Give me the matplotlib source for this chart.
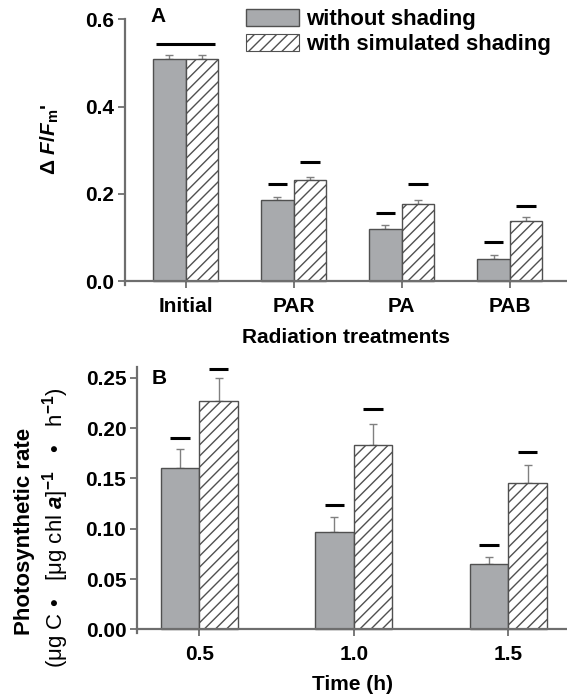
import numpy as np
import matplotlib
matplotlib.use('Agg')
import matplotlib.pyplot as plt
from matplotlib.patches import Patch

plt.rcParams['font.family'] = ['Liberation Sans', 'DejaVu Sans']
plt.rcParams['font.weight'] = 'bold'
plt.rcParams['axes.labelweight'] = 'bold'
plt.rcParams['mathtext.fontset'] = 'custom'
plt.rcParams['mathtext.rm'] = 'Liberation Sans'
plt.rcParams['mathtext.it'] = 'Liberation Sans:italic:bold'
plt.rcParams['mathtext.bf'] = 'Liberation Sans:bold'
plt.rcParams['hatch.linewidth'] = 1.0

### Data

# Panel A: effective quantum yield per radiation treatment
treatments = ['Initial', 'PAR', 'PA', 'PAB']
yield_without = [0.509, 0.187, 0.119, 0.050]
yield_without_err = [0.010, 0.006, 0.009, 0.009]
yield_with = [0.509, 0.231, 0.176, 0.137]
yield_with_err = [0.010, 0.008, 0.009, 0.009]
# heights of the significance bars (nan = no bar over that column)
sig_a_without = [np.nan, 0.222, 0.157, 0.090]
sig_a_with = [np.nan, 0.272, 0.222, 0.172]
sig_a_joint = [0.544, np.nan, np.nan, np.nan]

# Panel B: photosynthetic rate against time
times = [0.5, 1.0, 1.5]
rate_without = [0.160, 0.097, 0.065]
rate_without_err = [0.019, 0.015, 0.007]
rate_with = [0.227, 0.183, 0.145]
rate_with_err = [0.023, 0.021, 0.018]
sig_b_without = [0.190, 0.124, 0.084]
sig_b_with = [0.259, 0.219, 0.176]

gray = '#a8aaad'
edge = '#505050'
spine = '#6e6e6e'
errc = '#808080'


def style_axes(ax):
   for s in ['top', 'right']:
      ax.spines[s].set_visible(False)
   for s in ['left', 'bottom']:
      ax.spines[s].set_color(spine)
      ax.spines[s].set_linewidth(1.6)
   ax.spines['bottom'].set_position(('data', 0))
   ax.spines['bottom'].set_zorder(5)
   ax.tick_params(axis='y', direction='out', length=5, width=1.3, color=spine,
                  labelsize=15, pad=3)
   ax.tick_params(axis='x', direction='inout', length=10, width=1.3, color=spine,
                  labelsize=15, pad=6)


def draw_pair(ax, pos, width, v1, e1, v2, e2):
   pos = np.asarray(pos, dtype=float)
   ax.bar(pos - width / 2, v1, width, color=gray, edgecolor=edge, linewidth=1.0, zorder=2)
   ax.bar(pos + width / 2, v2, width, color='white', edgecolor=edge, linewidth=1.0,
          hatch='///', zorder=2)
   ax.errorbar(pos - width / 2, v1, yerr=[np.zeros(len(v1)), e1], fmt='none',
               ecolor=errc, elinewidth=1.0, capsize=3, capthick=1.0, zorder=1)
   ax.errorbar(pos + width / 2, v2, yerr=[np.zeros(len(v2)), e2], fmt='none',
               ecolor=errc, elinewidth=1.0, capsize=3, capthick=1.0, zorder=1)
   return pos


fig = plt.figure(figsize=(5.67, 6.95), dpi=100)

### Panel A
axA = fig.add_axes([125 / 567, 1 - 281 / 695 - 0.006, 1 - 125 / 567, 266 / 695])
xa = np.arange(1, len(treatments) + 1)
wa = 0.30
draw_pair(axA, xa, wa, yield_without, yield_without_err, yield_with, yield_with_err)
axA.hlines(sig_a_without, xa - wa / 2 - 0.3 * wa, xa - wa / 2 + 0.3 * wa, color='black', lw=2.2)
axA.hlines(sig_a_with, xa + wa / 2 - 0.3 * wa, xa + wa / 2 + 0.3 * wa, color='black', lw=2.2)
axA.hlines(sig_a_joint, xa - 0.92 * wa, xa + 0.92 * wa, color='black', lw=2.2)
axA.set_xlim(0.44, 4.53)
axA.set_ylim(-0.009, 0.6)
axA.set_yticks([0.0, 0.2, 0.4, 0.6])
axA.set_yticklabels(['0.0', '0.2', '0.4', '0.6'])
axA.set_xticks(xa)
axA.set_xticklabels(treatments)
style_axes(axA)
axA.set_xlabel('Radiation treatments', fontsize=15, labelpad=9)
fig.text(158 / 567, 1 - 17 / 695, 'A', fontsize=15, va='center', ha='center')

handles = [Patch(facecolor=gray, edgecolor=edge, linewidth=1.0, label='without shading'),
           Patch(facecolor='white', edgecolor=edge, linewidth=0.8, hatch='///',
                 label='with simulated shading')]
fig.legend(handles=handles, loc='upper left', bbox_to_anchor=(246 / 567, 1 - 9 / 695),
           frameon=False, fontsize=16, handlelength=2.4, handleheight=0.8,
           handletextpad=0.3, labelspacing=0.15, borderpad=0, borderaxespad=0)

fig.text(50 / 567, 1 - 139 / 695, r"$\mathrm{\Delta}$ $\it{F/F}_{\rm m}$'", rotation=90,
         fontsize=15, ha='center', va='center')

### Panel B
axB = fig.add_axes([137.4 / 567, 1 - 629.3 / 695 - 0.006, 1 - 137.4 / 567, 262.6 / 695 + 0.006])
xb = np.asarray(times)
wb = 0.125
draw_pair(axB, xb, wb, rate_without, rate_without_err, rate_with, rate_with_err)
axB.hlines(sig_b_without, xb - wb / 2 - 0.25 * wb, xb - wb / 2 + 0.25 * wb, color='black', lw=2.2)
axB.hlines(sig_b_with, xb + wb / 2 - 0.25 * wb, xb + wb / 2 + 0.25 * wb, color='black', lw=2.2)
axB.set_xlim(0.30, 1.69)
axB.set_ylim(-0.004, 0.261)
axB.set_yticks([0.0, 0.05, 0.10, 0.15, 0.20, 0.25])
axB.set_yticklabels(['0.00', '0.05', '0.10', '0.15', '0.20', '0.25'])
axB.set_xticks(xb)
axB.set_xticklabels(['0.5', '1.0', '1.5'])
style_axes(axB)
axB.set_xlabel('Time (h)', fontsize=15, labelpad=8)
fig.text(159 / 567, 1 - 379 / 695, 'B', fontsize=15, va='center', ha='center')

fig.text(25 / 567, 1 - 531 / 695, 'Photosynthetic rate', rotation=90,
         fontsize=16, ha='center', va='center')
fig.text(56 / 567, 1 - 528 / 695,
         r'(μg C •   [μg chl $\it{a}$]$^{-1}$   •   h$^{-1}$)', rotation=90,
         rotation_mode='anchor', fontsize=16, fontweight='normal',
         ha='center', va='center')

fig.savefig('out.png', dpi=100)
